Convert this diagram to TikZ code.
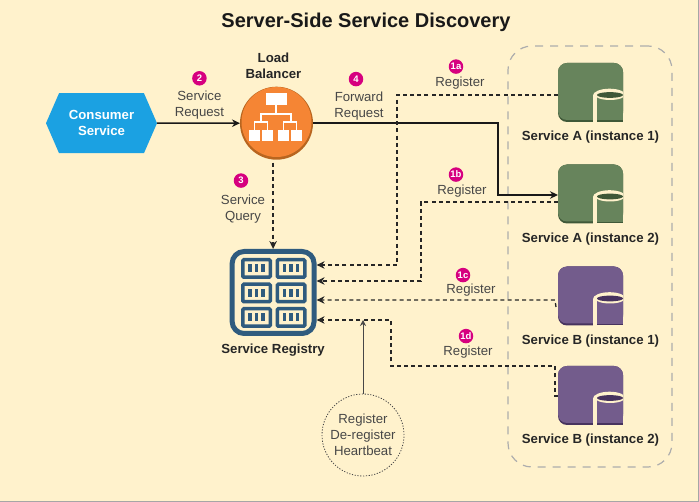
\documentclass[tikz,border=0pt]{standalone}
\usepackage{fontspec}
\setmainfont{Liberation Sans}
\usetikzlibrary{arrows.meta,positioning,shapes.symbols}
\definecolor{pagecream}{HTML}{FFF2CC}
\definecolor{txtgrey}{HTML}{474747}
\definecolor{consblue}{HTML}{1BA1E2}
\definecolor{lborange}{HTML}{F58534}
\definecolor{lbdark}{HTML}{B8651F}
\definecolor{badgepink}{HTML}{D6007F}
\definecolor{regblue}{HTML}{2F5B7E}
\definecolor{svcgreen}{HTML}{67845C}
\definecolor{svcgdark}{HTML}{3F5838}
\definecolor{svcpurple}{HTML}{735C8C}
\definecolor{svcpdark}{HTML}{47335E}
\tikzset{
  every node/.style = {outer sep=0pt,inner sep=0pt,align=center},
  lbl/.style    = {font=\fontsize{13.2}{16}\selectfont,text=txtgrey},
  blbl/.style   = {font=\fontsize{13.2}{16}\selectfont\bfseries,text=black!85},
  badge/.style  = {circle,fill=badgepink,text=white,minimum size=14.5pt,
                   font=\fontsize{9.5}{10}\selectfont\bfseries},
  tile/.style   = {rounded corners=9pt,minimum width=65pt,minimum height=59pt},
  reqline/.style= {-{Stealth[length=8pt,width=7.5pt]},line width=1.4pt,color=black!90},
  regline/.style= {-{Stealth[length=8pt,width=7.5pt]},line width=1.3pt,color=black!85,
                   dash pattern=on 4pt off 3.2pt},
  cell/.style   = {draw=regblue,line width=3.5pt,rounded corners=1pt,fill=pagecream,
                   minimum width=27.5pt,minimum height=17.5pt},
  pics/dbpart/.style 2 args = {code={
    % origin at the right lower corner of the tile
    \begin{scope}
      \clip (-32,-36) rectangle (0,1);
      \fill[pagecream] (-30,1) rectangle (0,-26.5);
      \fill[pagecream] (-13.5,-26.5) circle[x radius=16.5,y radius=6.8];
      \fill[#1] (-26.2,0) rectangle (0,-25);
      \fill[#2] (-26.2,0) rectangle (0,-1.5);
      \fill[pagecream] (-13,-27) circle[x radius=14.8,y radius=5];
      \fill[#2] (-13,-27) circle[x radius=13,y radius=2.9];
    \end{scope}
  }},
}
\begin{document}
\begin{tikzpicture}[x=1pt,y=-1pt]
  \useasboundingbox (0,0) rectangle (699,502);
  \fill[black!35] (0,0) rectangle (699,502);
  \fill[pagecream] (0,0) rectangle (697.5,500.5);
  \node[font=\fontsize{20}{24}\selectfont\bfseries,text=black!90] (title) at (366,22) {Server-Side Service Discovery};

  % left part
  \node[signal,signal to=east and west,signal pointer angle=133,fill=consblue,
        minimum width=111pt,minimum height=60pt,text=white,
        font=\fontsize{13.2}{16}\selectfont\bfseries] (consumer) at (101.5,123.2) {Consumer\\Service};
  \node[circle,fill=lbdark,minimum size=73pt,right=83pt of consumer] (lb) {};
  \fill[lborange] (lb.center) ++(0,-1.2) circle[radius=35];
  \node[blbl,above=8pt of lb,xshift=-3pt] (lbname) {Load\\Balancer};
  \node[fill=white,minimum width=21pt,minimum height=12pt] (lbtop) at (276,99) {};
  \foreach \x/\n in {254.5/a,267.5/b,283.5/c,296.5/d}
    \node[fill=white,minimum size=11pt] (lb\n) at (\x,136) {};
  \draw[white,line width=1.1pt] (lbtop.south) -- ++(0,9)
    (261,122) |- (291,114) -- (291,122)
    (lba.north) |- (261,122) -| (lbb.north)
    (lbc.north) |- (291,122) -| (lbd.north);
  \node[lbl,left=16pt of lb.west,yshift=18pt] (sreq) {Service\\Request};
  \node[badge,above=5.5pt of sreq] (b2) {2};

  % registry
  \node[draw=regblue,line width=5pt,outer sep=2.5pt,rounded corners=12pt,minimum width=82pt,minimum height=82pt] (reg) at (273.1,292.5) {};
  \foreach \c/\x in {1/256.5,2/291}
    \foreach \r/\y in {1/268.5,2/293,3/317.5} {
      \node[cell] (cell\c\r) at (\x,\y) {};
      \foreach \d in {-6.5,0,6.5}
        \fill[regblue] (\x+\d-1.7,\y-4) rectangle (\x+\d+1.7,\y+4);
    }
  \node[blbl,below=8pt of reg] (regname) {Service Registry};
  \node[lbl] (squery) at (243,209) {Service\\Query};
  \node[badge,above=7pt of squery,xshift=-2pt] (b3) {3};

  % services
  \node[draw=black!32,line width=1.2pt,dash pattern=on 8pt off 7pt,rounded corners=24pt,
        minimum width=164pt,minimum height=421pt] (group) at (590,256.5) {};
  \foreach \n/\y/\main/\dark/\txt in {
      aone/92.5/svcgreen/svcgdark/Service A (instance 1),
      atwo/194/svcgreen/svcgdark/Service A (instance 2),
      bone/296/svcpurple/svcpdark/Service B (instance 1),
      btwo/395.5/svcpurple/svcpdark/Service B (instance 2)} {
    \node[tile,fill=\dark] (\n) at (590.5,\y) {};
    \fill[\main,rounded corners=9pt] (558,\y-29.5) rectangle (623,\y+27.5);
    \pic at (623,\y+29.5) {dbpart={\main}{\dark}};
    \node[blbl,below=9pt of \n] (\n txt) {\txt};
  }

  % forward and query
  \node[circle,draw=txtgrey,line width=0.8pt,dash pattern=on 1.2pt off 1.6pt,minimum size=82pt] (hb) at (363,435) {};
  \node[lbl] (hbtxt) at (hb) {Register\\De-register\\Heartbeat};
  \draw[reqline] (consumer) -- (lb);
  \draw[reqline] (lb) -| (498,195) -- (atwo.west |- 0,195);
  \draw[regline] (lb.south -| reg) ++(0,3) -- (reg.north);
  \node[lbl] (fwd) at (359,106) {Forward\\Request};
  \node[badge,above=5.5pt of fwd,xshift=-3pt] (b4) {4};

  % register lines
  \coordinate (aoneout) at (558,95);
  \coordinate (atwoout) at (558,202);
  \coordinate (boneout) at (556,307);
  \coordinate (btwoout) at (558,396);
  \draw[regline] (aoneout) -| (397,265) -- (reg.east |- 0,265);
  \draw[regline] (atwoout) -| (421,281) -- (reg.east |- 0,281);
  \draw[regline] (boneout) -- (555,300) -- (reg.east |- 0,300);
  \draw[regline] (btwoout) -- (555,396) |- (391,366) |- (reg.east |- 0,320);
  \coordinate (hbend) at (363,320);
  \draw[-{Stealth[length=6pt,width=6pt]},line width=0.8pt,color=txtgrey] (hb.north) -- (hbend);

  \node[lbl] (ra) at (460,83.5) {Register};
  \node[badge,above=3.5pt of ra,xshift=-4pt] (b1a) {1a};
  \node[lbl] (rb) at (462,191.5) {Register};
  \node[badge,above=3.5pt of rb,xshift=-6pt] (b1b) {1b};
  \node[lbl] (rc) at (471,290.5) {Register};
  \node[badge,above=2pt of rc,xshift=-8pt] (b1c) {1c};
  \node[lbl] (rd) at (468,352.5) {Register};
  \node[badge,above=3pt of rd,xshift=-2pt] (b1d) {1d};
\end{tikzpicture}
\end{document}
